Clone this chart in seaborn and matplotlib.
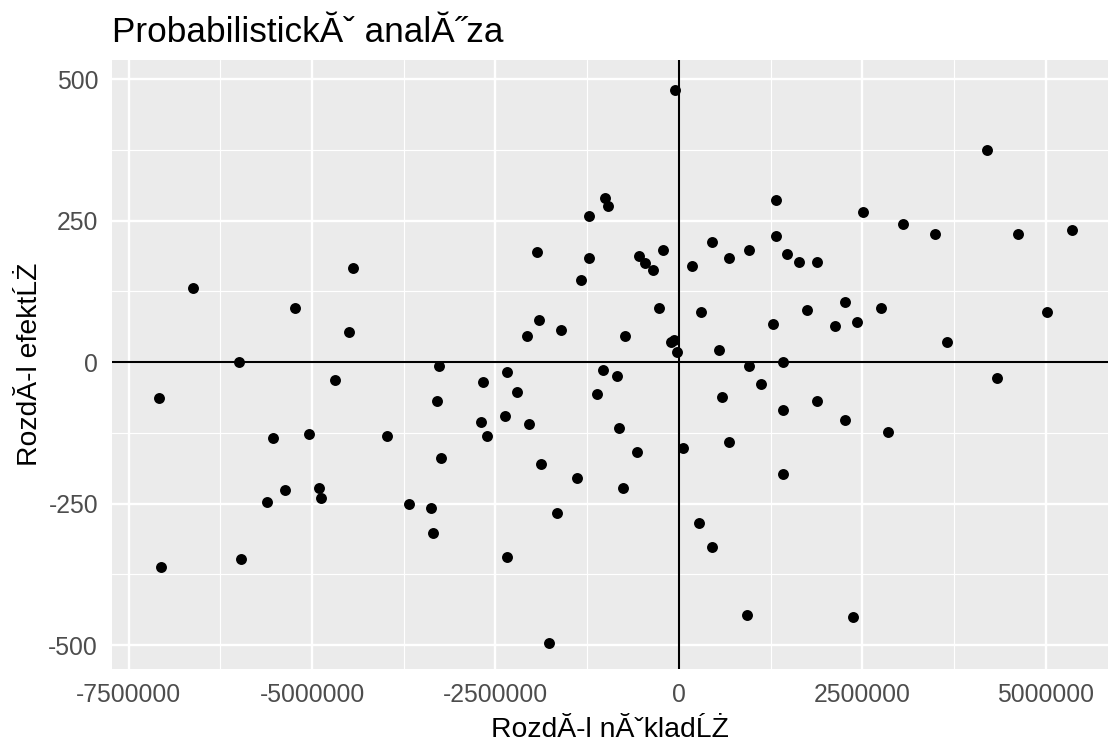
import numpy as np
import pandas as pd
import matplotlib
matplotlib.use("Agg")
import matplotlib.pyplot as plt
import seaborn as sns
from matplotlib.ticker import MultipleLocator, FixedLocator

# --- data ---
cost_diff = [
    -6620000, -5995000, -5232000, -4496000, -4441000, -4687000, -3270000, -7085000, -3297000,
    -54000, -1008000, -967000, -1226000, 1322000, -1935000, -1226000, -1335000, -545000,
    -463000, -354000, -218000, 177000, 450000, 681000, 954000, 1322000, 1471000, 1635000,
    1880000, -272000, 300000, 1744000, 1281000, 2125000, -1907000, -2071000, -1608000,
    -736000, -109000, -68000, -27000, 545000, 954000, 1417000, -2670000, -2343000, -2207000,
    -1035000, -845000, -1117000, 1117000, 586000, 1880000, 4196000, 2507000, 3052000,
    3488000, 4619000, 5354000, 2262000, 2752000, 5014000, 2425000, 3651000, 4332000,
    -5531000, -5041000, -3978000, -3242000, -5368000, -4905000, -4877000, -5613000,
    -3678000, -3379000, -3351000, -5967000, -7057000, 1417000, -2698000, -2371000,
    -2044000, -2616000, -817000, -572000, 54000, 681000, 1417000, -1880000, -1390000,
    -763000, -1662000, 272000, 450000, -2343000, 926000, -1771000, 2262000, 2847000,
    2371000,
]
effect_diff = [
    131, 0, 95, 53, 166, -32, -7, -64, -69,
    481, 290, 276, 258, 286, 194, 184, 145, 187,
    175, 163, 198, 170, 212, 184, 198, 223, 191, 177,
    177, 95, 88, 92, 67, 64, 74, 46, 57,
    46, 35, 39, 18, 21, -7, 0, -35, -18, -53,
    -14, -25, -57, -39, -62, -69, 375, 265, 244,
    226, 226, 233, 106, 95, 88, 71, 35, -28,
    -134, -127, -131, -170, -226, -223, -240, -247,
    -251, -258, -302, -348, -362, -85, -106, -95,
    -110, -131, -117, -159, -152, -141, -198, -180, -205,
    -223, -267, -284, -327, -345, -447, -496, -102, -124,
    -451,
]
x_ticks = [-7500000, -5000000, -2500000, 0, 2500000, 5000000]
x_tick_labels = ["-7500000", "-5000000", "-2500000", "0", "2500000", "5000000"]
y_ticks = [-500, -250, 0, 250, 500]
y_tick_labels = ["-500", "-250", "0", "250", "500"]

title = "ProbabilistickĂˇ analĂ˝za"
xlabel = "RozdĂ-l nĂˇkladĹŻ"
ylabel = "RozdĂ-l efektĹŻ"

df = pd.DataFrame({"cost": cost_diff, "effect": effect_diff})

sns.set_theme(style="darkgrid")
plt.rcParams["font.family"] = ["Liberation Sans", "DejaVu Sans"]
plt.rcParams["axes.facecolor"] = "#EBEBEB"
plt.rcParams["figure.facecolor"] = "white"

fig = plt.figure(figsize=(11.08, 7.45), dpi=100)
ax = fig.add_axes([112 / 1108, 1 - 669 / 745, 1 - 112 / 1108, (669 - 60) / 745])
ax.set_facecolor("#EBEBEB")

ax.set_xlim(-7724800, 5844700)
ax.set_ylim(-542.4, 533.6)

ax.xaxis.set_major_locator(FixedLocator(x_ticks))
ax.set_xticklabels(x_tick_labels)
ax.yaxis.set_major_locator(FixedLocator(y_ticks))
ax.set_yticklabels(y_tick_labels)
ax.xaxis.set_minor_locator(MultipleLocator(1250000))
ax.yaxis.set_minor_locator(MultipleLocator(125))

ax.grid(which="major", color="white", linewidth=1.7)
ax.grid(which="minor", color="white", linewidth=0.85)
ax.set_axisbelow(True)
for s in ax.spines.values():
    s.set_visible(False)

ax.axhline(0, color="black", linewidth=1.5, zorder=2)
ax.axvline(0, color="black", linewidth=1.5, zorder=2)

sns.scatterplot(data=df, x="cost", y="effect", ax=ax, color="black",
                s=62, linewidth=0, zorder=3, legend=False)

ax.tick_params(axis="both", which="major", length=5.5, width=1.1,
               color="#333333", labelcolor="#4D4D4D", labelsize=17.8, pad=4.5)
ax.tick_params(axis="both", which="minor", length=0)

ax.set_xlabel(xlabel, fontsize=20.4, color="black", labelpad=7)
ax.set_ylabel(ylabel, fontsize=20.4, color="black", labelpad=4)
ax.set_title(title, loc="left", fontsize=25.3, color="black", pad=13)

fig.savefig("out.png", dpi=100)
